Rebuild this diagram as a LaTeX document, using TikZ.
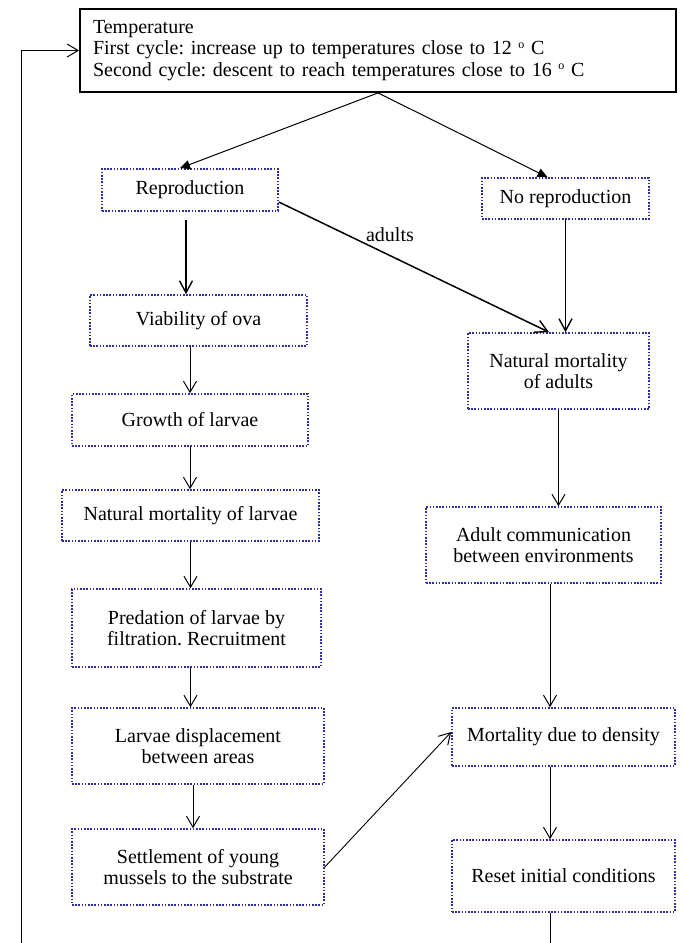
\documentclass[tikz,border=0pt]{standalone}
\usepackage{fontspec}
\setmainfont{Liberation Serif}
\usetikzlibrary{arrows.meta,calc}
\definecolor{dotblue}{RGB}{45,45,160}
\newcommand{\degsym}{\raisebox{0.75ex}{\fontsize{12}{12}\selectfont o}}
\begin{document}
\frenchspacing
\begin{tikzpicture}[x=1pt,y=-1pt,
  font=\fontsize{20}{21.5}\selectfont,
  dbox/.style={draw=dotblue,line width=1.6pt,dash pattern=on 1.6pt off 1.6pt,align=center,inner sep=0pt},
  openarrow/.style={-{Straight Barb[length=11pt,width=13pt,line width=1pt]},line width=0.9pt},
  fillarrow/.style={-{Triangle[length=10pt,width=9pt]},line width=1pt},
  thickarrow/.style={-{Straight Barb[length=12pt,width=13pt,line width=1.4pt]},line width=1.5pt}]
\useasboundingbox (0,0) rectangle (683,943);
\node[draw,line width=1.8pt,minimum width=596pt,minimum height=83pt,text width=570pt,align=left,inner xsep=13pt,inner ysep=0pt] (top) at (378,50.5)
 {Temperature\\First cycle: increase up to temperatures close to 12 \degsym{} C\\Second cycle: descent to reach temperatures close to 16 \degsym{} C};
\node[dbox,minimum width=176pt,minimum height=42pt] (repro) at (190,190) {Reproduction};
\node[dbox,minimum width=167pt,minimum height=41pt] (norepro) at (565.5,198.5) {No reproduction};
\node[dbox,minimum width=217pt,minimum height=51pt] (viab) at (198.5,320.5) {Viability of ova};
\node[dbox,minimum width=181pt,minimum height=76pt] (nma) at (558.5,371) {Natural mortality\\of adults};
\node[dbox,minimum width=236pt,minimum height=52pt] (growth) at (190,420) {Growth of larvae};
\node[dbox,minimum width=257pt,minimum height=51pt] (nml) at (190.5,515.5) {Natural mortality of larvae};
\node[dbox,minimum width=235pt,minimum height=76pt] (comm) at (543.5,545) {Adult communication\\between environments};
\node[dbox,minimum width=249pt,minimum height=78pt] (pred) at (196.5,628) {Predation of larvae by\\filtration. Recruitment};
\node[dbox,minimum width=252pt,minimum height=76pt] (larv) at (198,746) {Larvae displacement\\between areas};
\node[dbox,minimum width=223pt,minimum height=58pt] (dens) at (563.5,737) {Mortality due to density};
\node[dbox,minimum width=252pt,minimum height=76pt] (settle) at (198,867) {Settlement of young\\mussels to the substrate};
\node[dbox,minimum width=223pt,minimum height=72pt] (reset) at (563.5,876) {Reset initial conditions};
\node (adl) at (390,235) {adults};
\coordinate (lb) at (21,943);
\coordinate (rb) at (550,943);
% connectors
\draw[fillarrow] (top.south) -- ([xshift=-10pt]repro.north);
\draw[fillarrow] (top.south) -- ([xshift=-18pt]norepro.north);
\draw[thickarrow] ([xshift=-4pt,yshift=-8pt]repro.south) -- ([xshift=-4pt]repro.south |- viab.north);
\draw[thickarrow] ([yshift=-12pt]repro.east) -- ([xshift=-9.5pt]nma.north);
\draw[thickarrow] (norepro.south) -- (norepro.south |- nma.north);
\draw[openarrow] (growth.north |- viab.south) -- (growth.north);
\draw[openarrow] (growth.south) -- (growth.south |- nml.north);
\draw[openarrow] (nml.south) -- (nml.south |- pred.north);
\draw[openarrow] (nml.south |- pred.south) -- (nml.south |- larv.north);
\draw[openarrow] ([xshift=-5pt]larv.south) -- ([xshift=-5pt]settle.north);
\draw[openarrow] (settle.east) -- ([yshift=5pt]dens.west);
\draw[openarrow] (nma.south) -- (nma.south |- comm.north);
\draw[openarrow] (rb |- comm.south) -- (rb |- dens.north);
\draw[openarrow] (rb |- dens.south) -- (rb |- reset.north);
\draw[line width=0.9pt] (rb |- reset.south) -- (rb);
\draw[openarrow] (lb) |- (top.west);
\end{tikzpicture}
\end{document}
